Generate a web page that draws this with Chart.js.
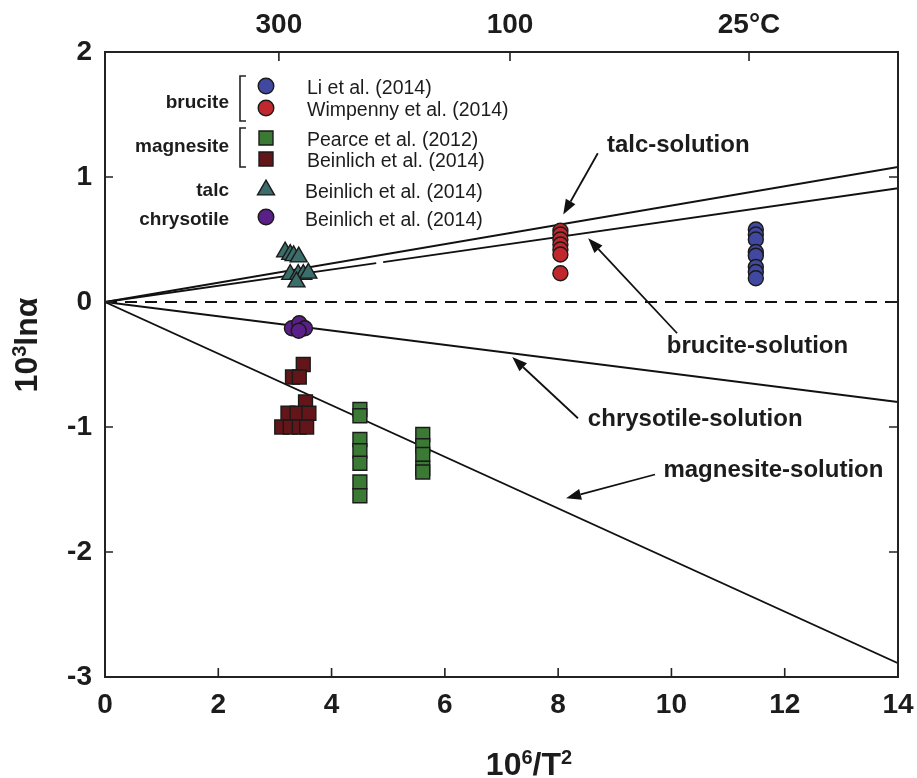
<!DOCTYPE html>
<html>
<head>
<meta charset="utf-8">
<script src="https://cdn.jsdelivr.net/npm/chart.js@4.4.1/dist/chart.umd.min.js"></script>
<style>
html,body{margin:0;padding:0;background:#fff;}
#wrap{position:relative;width:917px;height:778px;}
</style>
</head>
<body>
<div id="wrap"><canvas id="c"></canvas></div>
<script>
// ---------------- data ----------------
const xTickValues = [0, 2, 4, 6, 8, 10, 12, 14];
const yTickValues = [-3, -2, -1, 0, 1, 2];
const topTickPositions = [3.07, 7.15, 11.37];
const topTickLabels = ['300', '100', '25°C'];

// brucite – Li et al. (2014)
const liX = [11.49, 11.49, 11.49, 11.49, 11.49, 11.49, 11.49, 11.49];
const liY = [0.58, 0.54, 0.50, 0.40, 0.37, 0.28, 0.24, 0.19];
// brucite – Wimpenny et al. (2014)
const wimpX = [8.04, 8.04, 8.04, 8.04, 8.04, 8.04, 8.04];
const wimpY = [0.57, 0.54, 0.50, 0.46, 0.42, 0.38, 0.23];
// magnesite – Pearce et al. (2012)
const pearceX = [4.50, 4.50, 4.50, 4.50, 4.50, 4.50, 4.50, 5.61, 5.61, 5.61, 5.61, 5.61];
const pearceY = [-0.86, -0.91, -1.10, -1.19, -1.29, -1.44, -1.55, -1.06, -1.15, -1.22, -1.33, -1.36];
// magnesite – Beinlich et al. (2014)
const beinMagX = [3.50, 3.31, 3.43, 3.54, 3.23, 3.39, 3.60, 3.12, 3.27, 3.43, 3.56];
const beinMagY = [-0.50, -0.60, -0.60, -0.80, -0.89, -0.89, -0.89, -1.00, -1.00, -1.00, -1.00];
// talc – Beinlich et al. (2014)
const talcX = [3.18, 3.27, 3.33, 3.42, 3.27, 3.41, 3.50, 3.59, 3.38];
const talcY = [0.40, 0.38, 0.37, 0.36, 0.22, 0.22, 0.22, 0.23, 0.16];
// chrysotile – Beinlich et al. (2014)
const chrysX = [3.30, 3.43, 3.53, 3.42];
const chrysY = [-0.21, -0.17, -0.21, -0.23];

// calculated fractionation lines (end points)
const lineX = [0, 14];
const talcLineY = [0, 1.08];
const bruciteLineY = [0, 0.91];
const chrysotileLineY = [0, -0.80];
const magnesiteLineY = [0, -2.89];
const zeroLineY = [0, 0];

// annotation labels and arrows (data coordinates)
const annoLabels = ['talc-solution', 'brucite-solution', 'chrysotile-solution', 'magnesite-solution'];
const annoLabelX = [10.12, 11.52, 10.42, 11.80];
const annoLabelY = [1.20, -0.41, -0.99, -1.40];
const arrowFromX = [8.70, 10.10, 8.35, 9.71];
const arrowFromY = [1.19, -0.25, -0.93, -1.38];
const arrowToX = [8.09, 8.53, 7.19, 8.14];
const arrowToY = [0.70, 0.51, -0.44, -1.57];

// ---------------- styling ----------------
const NARROW = '"Liberation Sans Narrow", "Liberation Sans", Arial, sans-serif';
const SANS = '"Liberation Sans", Arial, sans-serif';
const INK = '#1c1c1c';
const C_LI = '#4148a0', C_WIMP = '#c0282d', C_PEARCE = '#3b7a34', C_BEIN = '#63161a', C_TALC = '#3b6d6b', C_CHRYS = '#5a2088';
const EDGE = '#1a1a1a';

function pts(xs, ys) { return ys.map((y, i) => ({ x: xs[i], y: y })); }

function scatterSet(label, xs, ys, color, style, r) {
  return {
    label, data: pts(xs, ys), showLine: false,
    pointStyle: style, pointRadius: r, pointHoverRadius: r,
    backgroundColor: color, borderColor: EDGE, pointBorderWidth: 1.4, borderWidth: 1.4, order: 1
  };
}
function lineSet(label, ys, dash) {
  return {
    label, data: pts(lineX, ys), showLine: true, pointRadius: 0, pointHoverRadius: 0,
    borderColor: '#111', borderWidth: 1.8, borderDash: dash || [], fill: false, order: 5
  };
}

const datasets = [
  lineSet('talc-solution', talcLineY),
  lineSet('brucite-solution', bruciteLineY, [274, 7, 3000]),
  lineSet('chrysotile-solution', chrysotileLineY),
  lineSet('magnesite-solution', magnesiteLineY),
  lineSet('zero', zeroLineY, [12, 8]),
  scatterSet('Li et al. (2014)', liX, liY, C_LI, 'circle', 7.5),
  scatterSet('Wimpenny et al. (2014)', wimpX, wimpY, C_WIMP, 'circle', 7.5),
  scatterSet('Pearce et al. (2012)', pearceX, pearceY, C_PEARCE, 'rect', 9.8),
  scatterSet('Beinlich et al. (2014) magnesite', beinMagX, beinMagY, C_BEIN, 'rect', 9.8),
  scatterSet('Beinlich et al. (2014) talc', talcX, talcY, C_TALC, 'triangle', 9.8),
  scatterSet('Beinlich et al. (2014) chrysotile', chrysX, chrysY, C_CHRYS, 'circle', 7.5)
];

// ---------------- helpers for drawing ----------------
function drawMarker(ctx, style, x, y, color) {
  ctx.save();
  ctx.fillStyle = color; ctx.strokeStyle = EDGE; ctx.lineWidth = 1.4;
  ctx.beginPath();
  if (style === 'circle') {
    ctx.arc(x, y, 7.8, 0, Math.PI * 2);
  } else if (style === 'rect') {
    ctx.rect(x - 7, y - 7, 14, 14);
  } else if (style === 'triangle') {
    const r = 9.8;
    ctx.moveTo(x, y - r);
    ctx.lineTo(x + r * Math.sin(2 * Math.PI / 3), y - r * Math.cos(2 * Math.PI / 3));
    ctx.lineTo(x + r * Math.sin(4 * Math.PI / 3), y - r * Math.cos(4 * Math.PI / 3));
    ctx.closePath();
  }
  ctx.fill(); ctx.stroke();
  ctx.restore();
}

function drawArrow(ctx, x1, y1, x2, y2) {
  const ang = Math.atan2(y2 - y1, x2 - x1);
  const L = 15, W = 5.5;
  const bx = x2 - L * Math.cos(ang), by = y2 - L * Math.sin(ang);
  ctx.save();
  ctx.strokeStyle = '#111'; ctx.fillStyle = '#111'; ctx.lineWidth = 1.8;
  ctx.beginPath(); ctx.moveTo(x1, y1); ctx.lineTo(bx, by); ctx.stroke();
  ctx.beginPath();
  ctx.moveTo(x2, y2);
  ctx.lineTo(bx + W * Math.sin(ang), by - W * Math.cos(ang));
  ctx.lineTo(bx - W * Math.sin(ang), by + W * Math.cos(ang));
  ctx.closePath(); ctx.fill();
  ctx.restore();
}

// text with superscripts: parts = [[text, isSup], ...]
function drawSupText(ctx, parts, baseFont, supFont, supRise, cx, baseline) {
  let total = 0;
  const widths = parts.map(p => { ctx.font = p[1] ? supFont : baseFont; const w = ctx.measureText(p[0]).width; total += w; return w; });
  let x = cx - total / 2;
  ctx.textAlign = 'left'; ctx.textBaseline = 'alphabetic';
  parts.forEach((p, i) => {
    ctx.font = p[1] ? supFont : baseFont;
    ctx.fillText(p[0], x, baseline - (p[1] ? supRise : 0));
    x += widths[i];
  });
}

const decorPlugin = {
  id: 'decor',
  afterDraw(chart) {
    const ctx = chart.ctx;
    const a = chart.chartArea;
    const sx = chart.scales.x, sy = chart.scales.y;
    ctx.save();

    // frame
    ctx.strokeStyle = '#222'; ctx.lineWidth = 2;
    ctx.strokeRect(a.left, a.top, a.right - a.left, a.bottom - a.top);

    // inward ticks
    ctx.lineWidth = 1.6; ctx.strokeStyle = '#222';
    ctx.beginPath();
    xTickValues.forEach(v => {
      if (v <= sx.min || v >= sx.max) return;
      const px = sx.getPixelForValue(v);
      ctx.moveTo(px, a.bottom); ctx.lineTo(px, a.bottom - 9);
    });
    topTickPositions.forEach(v => {
      const px = sx.getPixelForValue(v);
      ctx.moveTo(px, a.top); ctx.lineTo(px, a.top + 9);
    });
    yTickValues.forEach(v => {
      if (v <= sy.min || v >= sy.max) return;
      const py = sy.getPixelForValue(v);
      ctx.moveTo(a.left, py); ctx.lineTo(a.left + 8, py);
      ctx.moveTo(a.right, py); ctx.lineTo(a.right - 9, py);
    });
    ctx.stroke();

    // arrows + labels
    ctx.fillStyle = INK;
    for (let i = 0; i < annoLabels.length; i++) {
      drawArrow(ctx, sx.getPixelForValue(arrowFromX[i]), sy.getPixelForValue(arrowFromY[i]),
        sx.getPixelForValue(arrowToX[i]), sy.getPixelForValue(arrowToY[i]));
      ctx.font = 'bold 24px ' + SANS;
      ctx.fillStyle = INK; ctx.textAlign = 'center'; ctx.textBaseline = 'alphabetic';
      ctx.fillText(annoLabels[i], sx.getPixelForValue(annoLabelX[i]), sy.getPixelForValue(annoLabelY[i]));
    }

    // legend (inside plot, upper left)
    const L = a.left, T = a.top;
    const groupX = L + 124, markX = L + 161, textX = L + 202;
    ctx.fillStyle = INK;
    ctx.font = 'bold 19px ' + SANS; ctx.textAlign = 'right'; ctx.textBaseline = 'alphabetic';
    ctx.fillText('brucite', groupX, T + 56);
    ctx.fillText('magnesite', groupX, T + 100);
    ctx.fillText('talc', groupX, T + 144);
    ctx.fillText('chrysotile', groupX, T + 173);
    // brackets
    ctx.strokeStyle = '#222'; ctx.lineWidth = 1.6;
    ctx.beginPath();
    ctx.moveTo(L + 141, T + 24); ctx.lineTo(L + 135, T + 24); ctx.lineTo(L + 135, T + 69); ctx.lineTo(L + 141, T + 69);
    ctx.moveTo(L + 141, T + 76); ctx.lineTo(L + 135, T + 76); ctx.lineTo(L + 135, T + 115); ctx.lineTo(L + 141, T + 115);
    ctx.stroke();
    // markers + texts
    const rows = [
      ['circle', C_LI, 34, 42, 'Li et al. (2014)', 0],
      ['circle', C_WIMP, 56, 64, 'Wimpenny et al. (2014)', 0],
      ['rect', C_PEARCE, 86, 94, 'Pearce et al. (2012)', 0],
      ['rect', C_BEIN, 107, 115, 'Beinlich et al. (2014)', 0],
      ['triangle', C_TALC, 138, 146, 'Beinlich et al. (2014)', -2],
      ['circle', C_CHRYS, 165, 174, 'Beinlich et al. (2014)', -2]
    ];
    rows.forEach(r => {
      drawMarker(ctx, r[0], markX, T + r[2], r[1]);
      ctx.font = '19.5px ' + SANS; ctx.fillStyle = INK; ctx.textAlign = 'left'; ctx.textBaseline = 'alphabetic';
      ctx.fillText(r[4], textX + r[5], T + r[3]);
    });

    // axis titles
    ctx.fillStyle = INK;
    drawSupText(ctx, [['10', false], ['6', true], ['/T', false], ['2', true]],
      'bold 32px ' + NARROW, 'bold 20px ' + NARROW, 11, 529, 775);
    ctx.save();
    ctx.translate(37, 345);
    ctx.rotate(-Math.PI / 2);
    drawSupText(ctx, [['10', false], ['3', true], ['lnα', false]],
      'bold 32px ' + NARROW, 'bold 20px ' + NARROW, 11, 0, 0);
    ctx.restore();

    ctx.restore();
  }
};

const tickFont = { family: NARROW, size: 28, weight: 'bold' };
function noSidePad(s) { s.paddingLeft = 0; s.paddingRight = 0; }

new Chart(document.getElementById('c'), {
  type: 'scatter',
  data: { datasets },
  options: {
    responsive: true, maintainAspectRatio: false, animation: false,
    layout: { padding: { left: 0, right: 19, top: 0, bottom: 0 } },
    plugins: { legend: { display: false }, tooltip: { enabled: false } },
    scales: {
      x: {
        type: 'linear', position: 'bottom', min: 0, max: 14,
        afterBuildTicks: s => { s.ticks = xTickValues.map(v => ({ value: v })); },
        afterFit: s => { s.height = 101; noSidePad(s); },
        grid: { display: false, drawTicks: false }, border: { display: false },
        ticks: { font: tickFont, color: INK, padding: 11, maxRotation: 0, autoSkip: false }
      },
      x2: {
        type: 'linear', position: 'top', min: 0, max: 14,
        afterBuildTicks: s => { s.ticks = topTickPositions.map(v => ({ value: v })); },
        afterFit: s => { s.height = 52; noSidePad(s); },
        grid: { display: false, drawTicks: false }, border: { display: false },
        ticks: { font: tickFont, color: INK, padding: 10, maxRotation: 0, autoSkip: false,
          callback: (v, i) => topTickLabels[i] }
      },
      y: {
        type: 'linear', position: 'left', min: -3, max: 2,
        afterBuildTicks: s => { s.ticks = yTickValues.map(v => ({ value: v })); },
        afterFit: s => { s.width = 105; s.paddingTop = 0; s.paddingBottom = 0; },
        grid: { display: false, drawTicks: false }, border: { display: false },
        ticks: { font: tickFont, color: INK, padding: 13, autoSkip: false }
      }
    }
  },
  plugins: [decorPlugin]
});
</script>
</body>
</html>
